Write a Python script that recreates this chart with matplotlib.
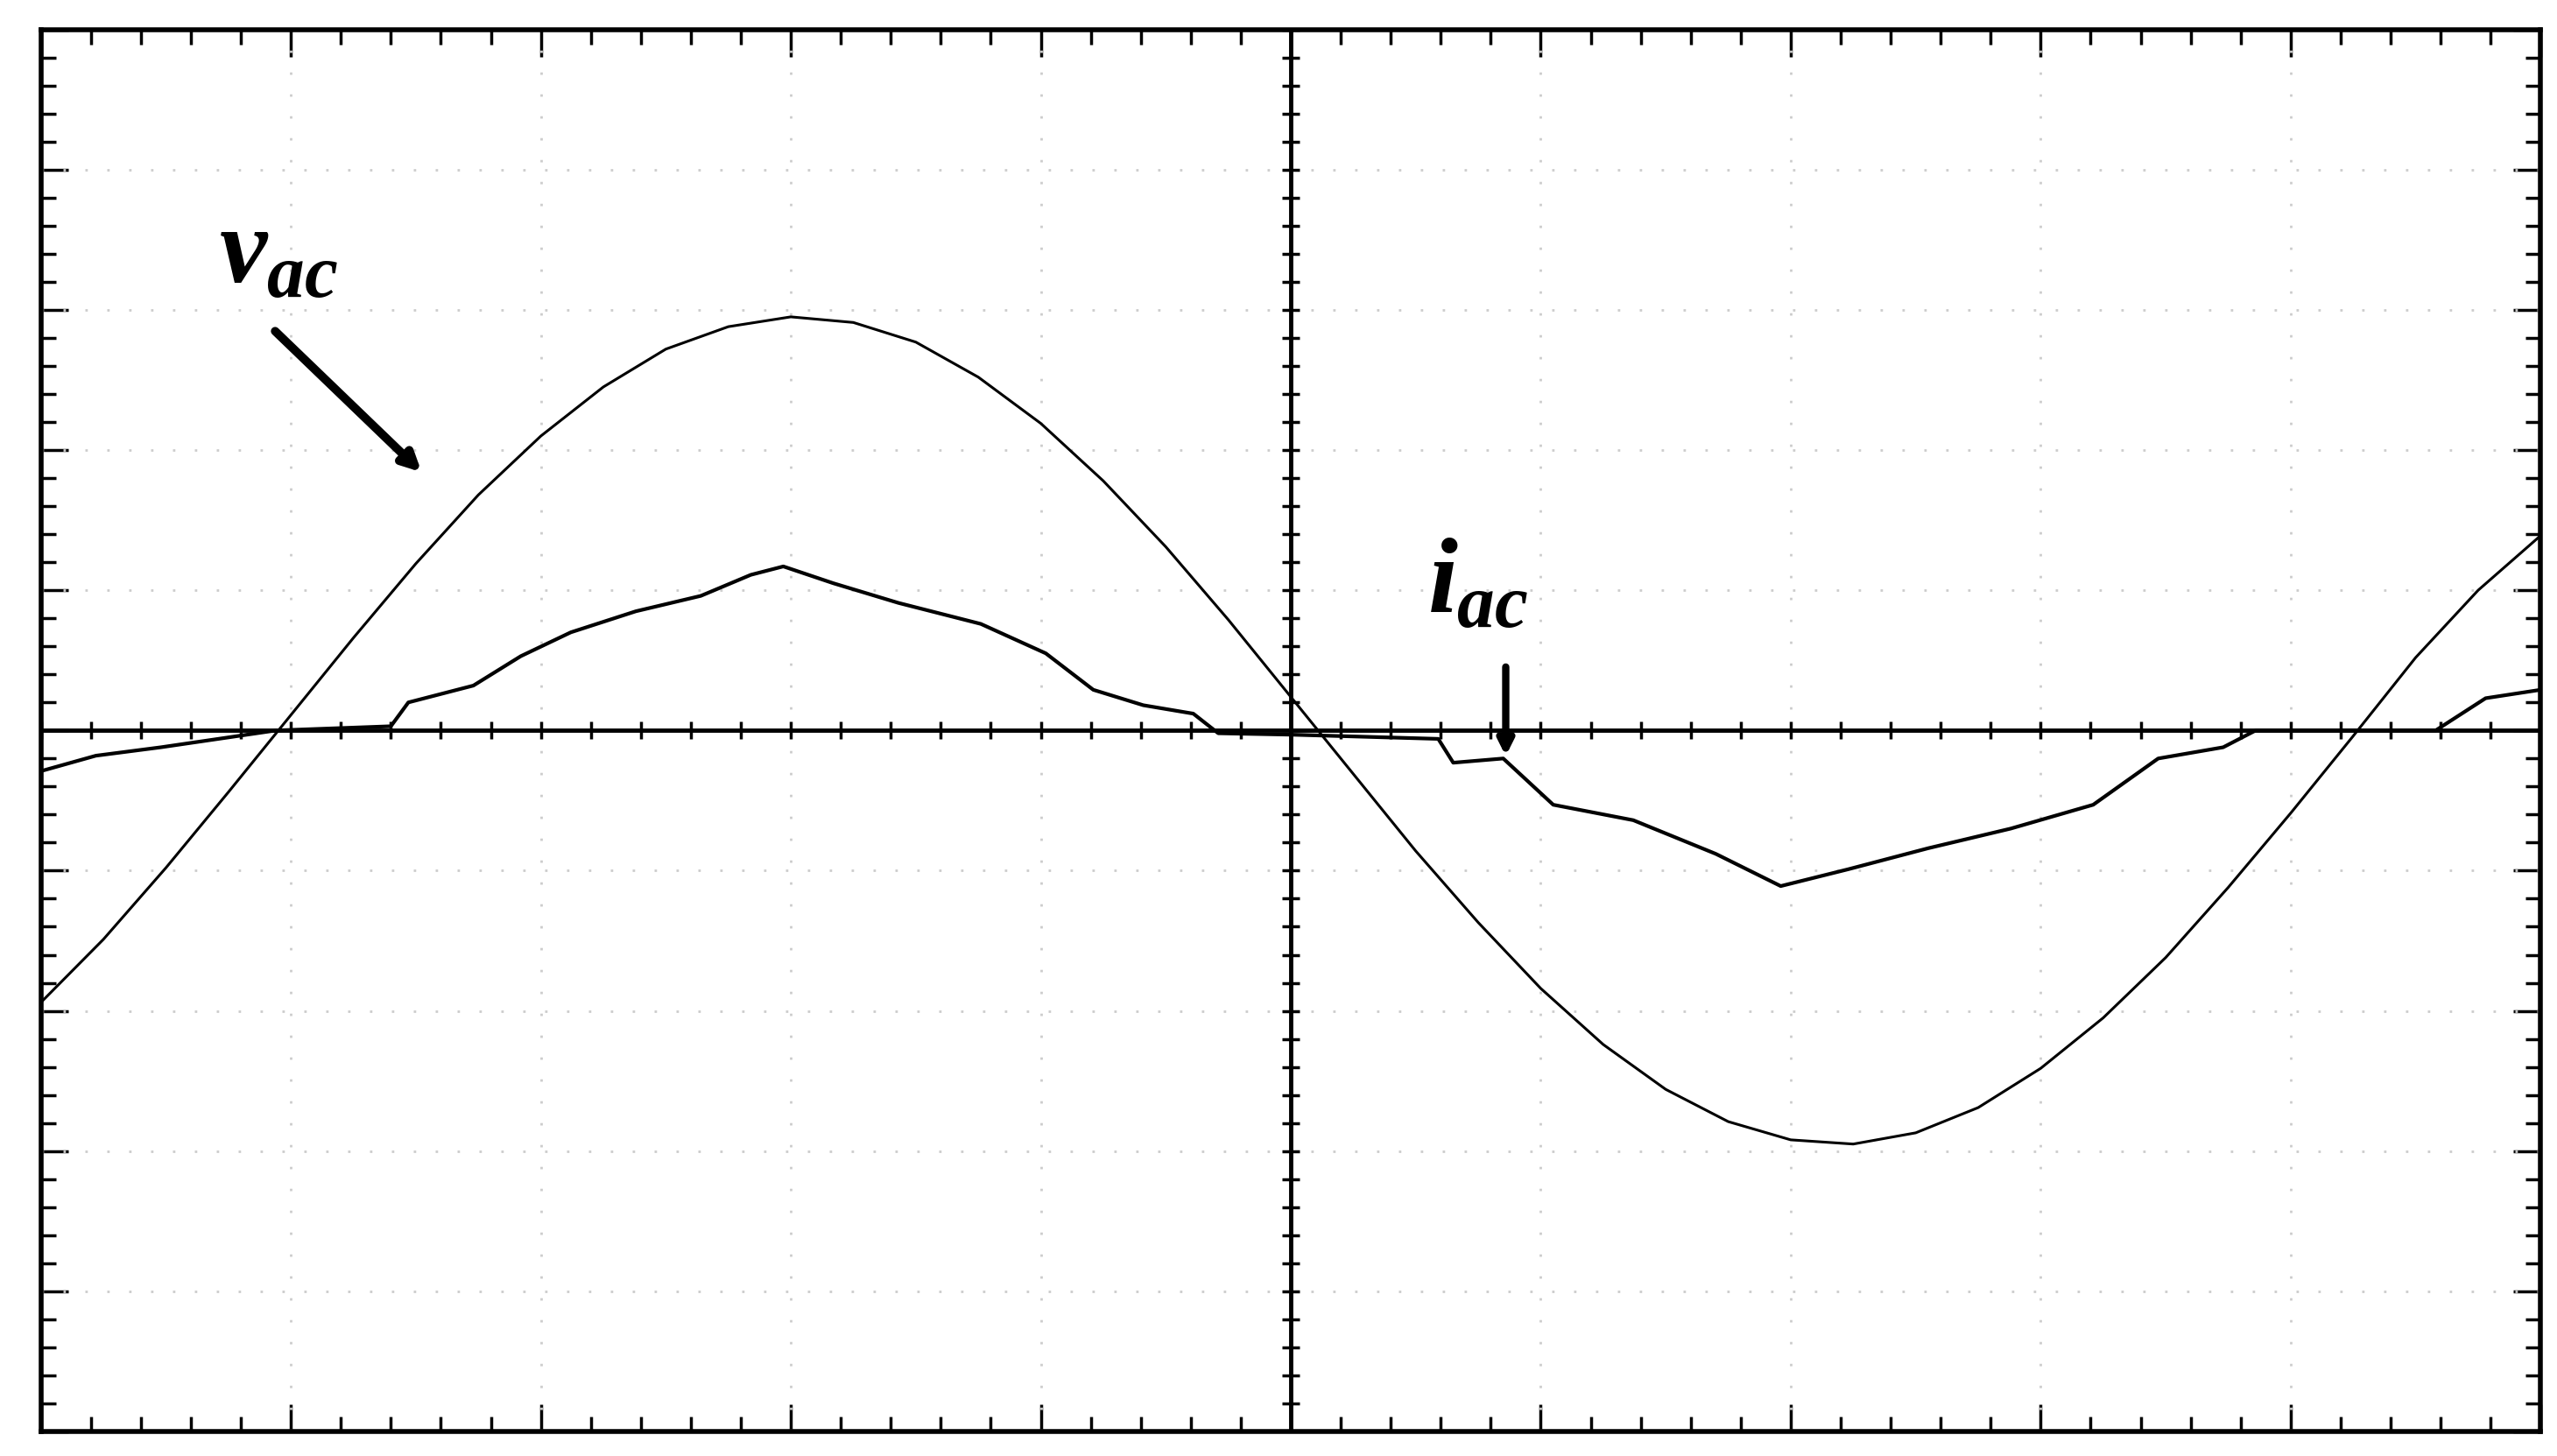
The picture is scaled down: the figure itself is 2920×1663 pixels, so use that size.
import numpy as np
import matplotlib
matplotlib.use("Agg")
import matplotlib.pyplot as plt
from matplotlib.ticker import MultipleLocator
plt.rcParams['mathtext.fontset'] = 'custom'
plt.rcParams['mathtext.it'] = 'Liberation Serif:bold:italic'
plt.rcParams['mathtext.rm'] = 'Liberation Serif:bold'

# vac samples (divisions)
vac_x = [-5+0.25*k for k in range(41)]
vac_y = [-1.94,-1.49,-0.98,-0.44,0.11,0.66,1.19,1.68,2.10,2.45,2.72,2.88,2.95,2.91,2.77,2.52,2.19,1.78,1.31,0.79,
         0.24,-0.31,-0.86,-1.37,-1.84,-2.24,-2.56,-2.79,-2.92,-2.95,-2.87,-2.69,-2.41,-2.05,-1.62,-1.12,-0.59,-0.04,0.52,1.0,1.39]
# iac samples
iac_x = [-5,-4.78,-4.52,-4.06,-3.6,-3.53,-3.27,-3.08,-2.88,-2.62,-2.36,-2.16,-2.03,-1.83,-1.57,-1.24,-0.98,-0.79,-0.59,-0.39,-0.29,
         0,0.59,0.65,0.85,1.05,1.37,1.70,1.96,2.23,2.55,2.88,3.21,3.47,3.73,3.86,4.58,4.78,5]
iac_y = [-0.29,-0.18,-0.12,0,0.03,0.2,0.32,0.53,0.70,0.85,0.96,1.11,1.17,1.05,0.91,0.76,0.55,0.29,0.18,0.12,-0.02,
         -0.03,-0.06,-0.23,-0.2,-0.53,-0.64,-0.88,-1.11,-0.99,-0.84,-0.70,-0.53,-0.20,-0.12,0,0,0.23,0.29]

fig = plt.figure(figsize=(29.2,16.63), dpi=100)
ax = fig.add_axes([25/1563, 1-875/890, 1528/1563, 857/890])
ax.set_xlim(-5,5); ax.set_ylim(-5,5)
for v in range(-4,5):
    ax.axvline(v, color='#cccccc', lw=2, ls=(0,(1,8)))
    ax.axhline(v, color='#cccccc', lw=2, ls=(0,(1,8)))
ax.axvline(0, color='black', lw=3.5)
ax.axhline(0, color='black', lw=3.5)
mt = np.arange(-5,5.01,0.2)
ax.plot(mt, np.zeros_like(mt), ls='none', marker='|', ms=14, mew=2.5, color='black')
ax.plot(np.zeros_like(mt), mt, ls='none', marker='_', ms=14, mew=2.5, color='black')
ax.plot(vac_x, vac_y, color='black', lw=2.2)
ax.plot(iac_x, iac_y, color='black', lw=3)
ax.xaxis.set_major_locator(MultipleLocator(1)); ax.xaxis.set_minor_locator(MultipleLocator(0.2))
ax.yaxis.set_major_locator(MultipleLocator(1)); ax.yaxis.set_minor_locator(MultipleLocator(0.2))
ax.tick_params(which='both', direction='in', top=True, right=True, labelbottom=False, labelleft=False, width=2.5)
ax.tick_params(which='major', length=22); ax.tick_params(which='minor', length=12)
for s in ax.spines.values(): s.set_linewidth(4)
ax.text(-4.05, 3.4, r'$v_{ac}$', fontsize=88, ha='center', va='center')
ax.text(0.75, 1.05, r'$i_{ac}$', fontsize=88, ha='center', va='center')
ax.annotate('', xy=(-3.47,1.83), xytext=(-4.07,2.86), arrowprops=dict(arrowstyle='-|>,head_width=0.6,head_length=1.2', lw=7, color='black'))
ax.annotate('', xy=(0.86,-0.2), xytext=(0.86,0.47), arrowprops=dict(arrowstyle='-|>,head_width=0.5,head_length=1.0', lw=6, color='black'))
fig.savefig('out.png', dpi=100)
